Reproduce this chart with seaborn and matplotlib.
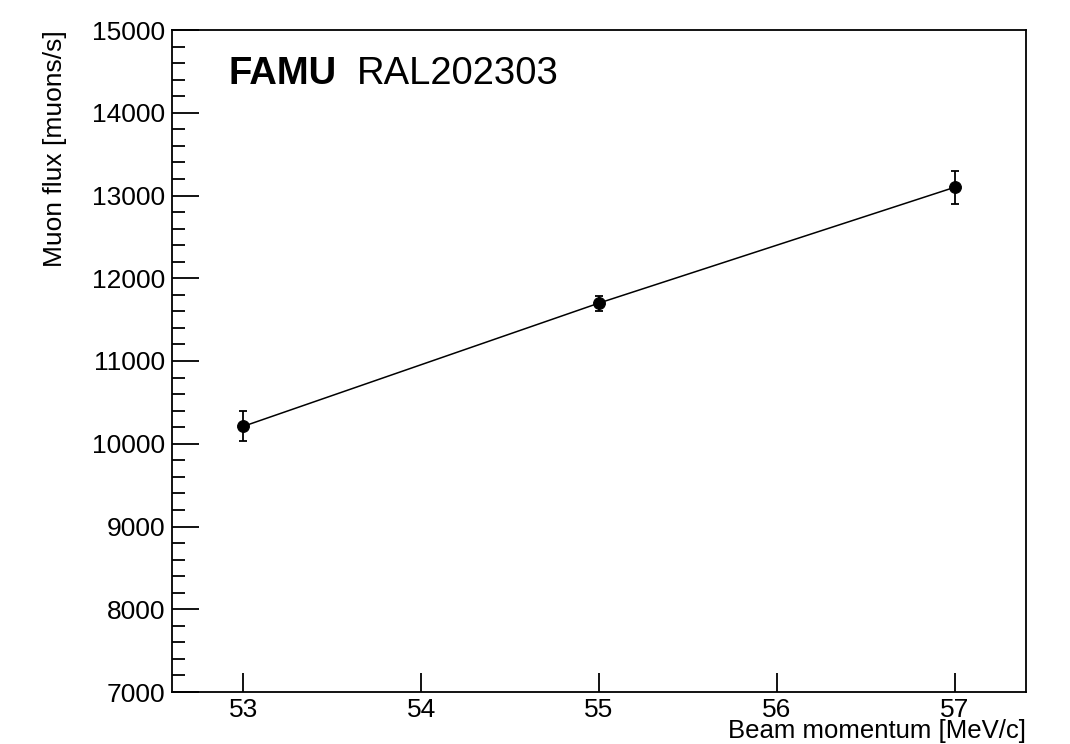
import matplotlib
matplotlib.use("Agg")
import matplotlib.pyplot as plt
import seaborn as sns
import numpy as np
import pandas as pd
from matplotlib.ticker import MultipleLocator

momentum = [53, 55, 57]
flux = [10210, 11700, 13100]
flux_err = [180, 90, 200]
xticks = [53, 54, 55, 56, 57]
yticks = [7000, 8000, 9000, 10000, 11000, 12000, 13000, 14000, 15000]

sns.set_style("white")
plt.rcParams['font.family'] = ['Liberation Sans', 'DejaVu Sans']
plt.rcParams.update({"text.color": "black", "axes.labelcolor": "black",
                     "xtick.color": "black", "ytick.color": "black",
                     "axes.edgecolor": "black"})

df = pd.DataFrame({"momentum": momentum, "flux": flux, "err": flux_err})

fig = plt.figure(figsize=(10.7, 7.44), dpi=100)
ax = fig.add_axes([172/1070, 1-692/744, (1026-172)/1070, (692-30)/744])

sns.lineplot(data=df, x="momentum", y="flux", ax=ax, color="black", linewidth=1.1,
             marker="o", markersize=8.5, markeredgecolor="black", markerfacecolor="black")
ax.errorbar(df["momentum"], df["flux"], yerr=df["err"], fmt="none", ecolor="black",
            elinewidth=1.3, capsize=3, capthick=1.3)

ax.set_xlim(52.6, 57.4)
ax.set_ylim(7000, 15000)
ax.set_xticks(xticks)
ax.set_yticks(yticks)
ax.set_xticklabels([str(t) for t in xticks])
ax.set_yticklabels([str(t) for t in yticks])
ax.yaxis.set_minor_locator(MultipleLocator(200))

for s in ax.spines.values():
    s.set_linewidth(1.3)
    s.set_color("black")

ax.tick_params(axis="y", which="major", direction="in", length=19.5, width=1.3,
               labelsize=19, pad=5, left=True, right=False, colors="black")
ax.tick_params(axis="y", which="minor", direction="in", length=9.5, width=1.3,
               left=True, right=False, colors="black")
ax.tick_params(axis="x", which="major", direction="in", length=13.5, width=1.3,
               labelsize=19, pad=4.5, bottom=True, top=False, colors="black")

ax.set_ylabel("Muon flux [muons/s]", fontsize=19, loc="top", labelpad=18, color="black")
ax.set_xlabel("Beam momentum [MeV/c]", fontsize=18.5, loc="right", labelpad=-2.5, color="black")

ax.text(0.0656, 0.919, "FAMU", transform=ax.transAxes, fontsize=27.5, fontweight="bold",
        ha="left", va="baseline", color="black")
ax.text(0.2166, 0.919, "RAL202303", transform=ax.transAxes, fontsize=27.5,
        ha="left", va="baseline", color="black")

fig.savefig("out.png", dpi=100)
